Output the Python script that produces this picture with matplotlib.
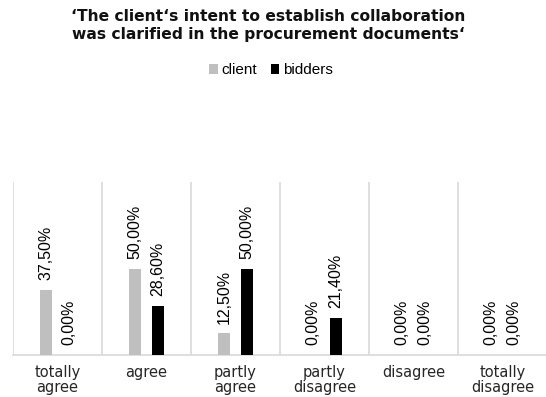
import matplotlib
matplotlib.use("Agg")
import matplotlib.pyplot as plt
from matplotlib.patches import Patch
import numpy as np

categories = ["totally\nagree", "agree", "partly\nagree", "partly\ndisagree", "disagree", "totally\ndisagree"]
client = [37.5, 50.0, 12.5, 0.0, 0.0, 0.0]
bidders = [0.0, 28.6, 50.0, 21.4, 0.0, 0.0]
series_names = ["client", "bidders"]
colors = ["#BFBFBF", "#000000"]
title = "\u2018The client\u2018s intent to establish collaboration\nwas clarified in the procurement documents\u2018"

plt.rcParams["font.family"] = ["Liberation Sans", "DejaVu Sans"]

fig = plt.figure(figsize=(5.46, 3.97), dpi=100)
ax = fig.add_axes([13 / 546, 1 - 355 / 397, 534 / 546, 173 / 397])

x = np.arange(len(categories))
width = 0.135
offset = 0.129

for vals, off, col in ((client, -offset, colors[0]), (bidders, offset, colors[1])):
    bars = ax.bar(x + off, vals, width=width, color=col, zorder=3)
    for b, v in zip(bars, vals):
        ax.annotate(f"{v:.2f}%".replace(".", ","),
                    xy=(b.get_x() + b.get_width() / 2, b.get_height()),
                    xytext=(0, 7), textcoords="offset points",
                    rotation=90, ha="center", va="bottom",
                    fontsize=11.5, color="#000000")

ax.set_xlim(-0.5, len(categories) - 0.5)
ax.set_ylim(0, 100)

# category separators
for bnd in np.arange(-0.5, len(categories) - 0.5, 1.0):
    ax.axvline(bnd, color="#D9D9D9", lw=1.2, zorder=1)

for s in ("left", "top", "right"):
    ax.spines[s].set_visible(False)
ax.spines["bottom"].set_color("#D9D9D9")
ax.spines["bottom"].set_linewidth(1.2)

ax.set_yticks([])
ax.set_xticks(x)
ax.set_xticklabels(categories, fontsize=10.5, family="DejaVu Sans",
                   color="#262626", linespacing=1.0)
ax.tick_params(axis="x", length=0, pad=7.5)

fig.text(268 / 546, 1 - 25.5 / 397, title, ha="center", va="center",
         fontsize=11.2, fontweight="bold", family="DejaVu Sans",
         color="#111111", linespacing=1.25)

handles = [Patch(facecolor=c, edgecolor="none") for c in colors]
fig.legend(handles, series_names, loc="center", bbox_to_anchor=(271 / 546, 1 - 70.5 / 397),
           ncol=2, frameon=False, fontsize=11, handlelength=0.55, handleheight=0.55,
           handletextpad=0.25, columnspacing=0.9, borderpad=0)

fig.savefig("out.png", dpi=100)
